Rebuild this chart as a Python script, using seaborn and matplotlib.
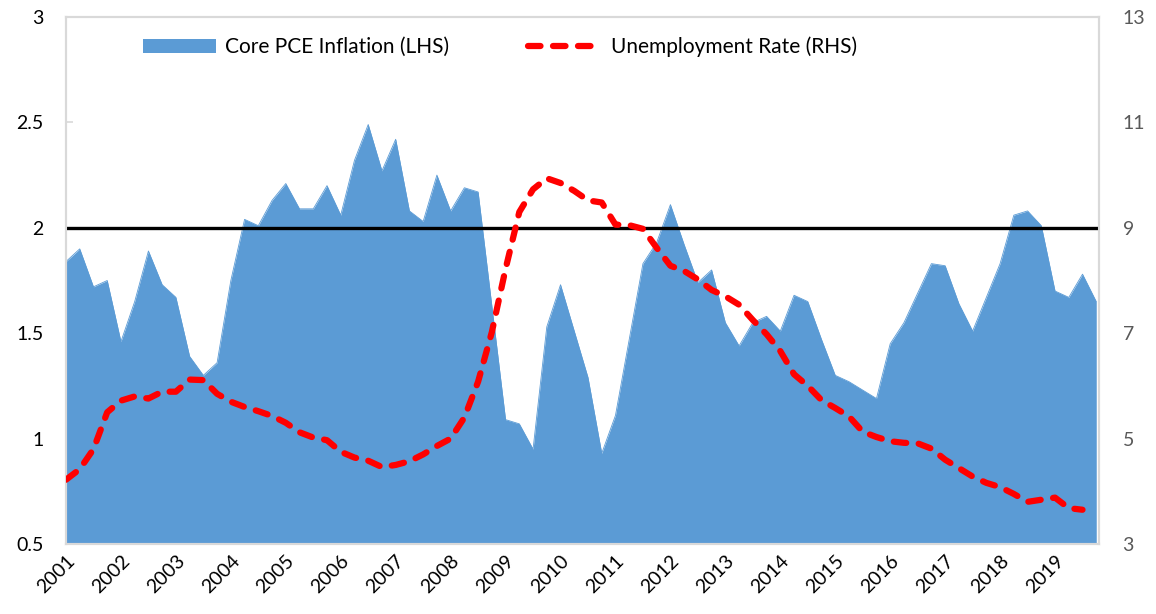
import numpy as np
import pandas as pd
import matplotlib
matplotlib.use("Agg")
import matplotlib.pyplot as plt
import seaborn as sns
from matplotlib.patches import Patch
from matplotlib.lines import Line2D

# ---- data (quarterly, 2001Q1 onwards) ----
start_year = 2001
core_pce = [1.84, 1.90, 1.72, 1.75, 1.46, 1.65, 1.89, 1.73, 1.67, 1.39,
            1.30, 1.36, 1.75, 2.04, 2.01, 2.13, 2.21, 2.09, 2.09, 2.20,
            2.06, 2.32, 2.49, 2.27, 2.42, 2.08, 2.03, 2.25, 2.08, 2.19,
            2.17, 1.63, 1.09, 1.07, 0.95, 1.53, 1.73, 1.51, 1.29, 0.93,
            1.11, 1.47, 1.83, 1.93, 2.11, 1.92, 1.74, 1.80, 1.55, 1.44,
            1.55, 1.58, 1.51, 1.68, 1.65, 1.47, 1.30, 1.27, 1.23, 1.19,
            1.45, 1.55, 1.69, 1.83, 1.82, 1.64, 1.51, 1.67, 1.83, 2.06,
            2.08, 2.01, 1.70, 1.67, 1.78, 1.65]
unemployment = [4.22, 4.42, 4.80, 5.50, 5.72, 5.80, 5.76, 5.89, 5.89, 6.12,
                6.11, 5.85, 5.70, 5.60, 5.52, 5.43, 5.30, 5.12, 5.02, 4.97,
                4.75, 4.64, 4.58, 4.46, 4.50, 4.57, 4.70, 4.86, 5.00, 5.40,
                6.08, 7.02, 8.22, 9.30, 9.73, 9.94, 9.85, 9.70, 9.52, 9.48,
                9.06, 9.05, 8.98, 8.62, 8.28, 8.18, 8.02, 7.82, 7.70, 7.54,
                7.25, 6.98, 6.66, 6.22, 6.00, 5.73, 5.58, 5.42, 5.13, 5.03,
                4.95, 4.92, 4.91, 4.81, 4.60, 4.44, 4.28, 4.16, 4.08, 3.95,
                3.80, 3.84, 3.88, 3.68, 3.65]
target = 2.0
year_ticks = list(range(2001, 2020))
year_labels = [str(y) for y in year_ticks]
left_ticks = [0.5, 1, 1.5, 2, 2.5, 3]
right_ticks = [3, 5, 7, 9, 11, 13]
label_pce = "Core PCE Inflation (LHS)"
label_unemp = "Unemployment Rate (RHS)"

pce_df = pd.DataFrame({"t": start_year + np.arange(len(core_pce)) / 4.0,
                       "v": core_pce})
un_df = pd.DataFrame({"t": start_year + np.arange(len(unemployment)) / 4.0,
                      "v": unemployment})

sns.set_theme(style="white")
plt.rcParams["font.family"] = ["Lato", "DejaVu Sans"]

BLUE = "#5B9BD5"
RED = "#FF0000"
GRID = "#D9D9D9"
DASH = [2.0, 2.0]
LW = 4.5

fig = plt.figure(figsize=(11.56, 6.14), dpi=100)
ax = fig.add_axes([66 / 1156, 1 - 544 / 614, (1099 - 66) / 1156, (544 - 17) / 614])

ax.fill_between(pce_df["t"], 0.5, pce_df["v"], color=BLUE, linewidth=0, zorder=1)
sns.lineplot(data=pce_df, x="t", y="v", ax=ax, color=BLUE, linewidth=0.6, zorder=1)
ax.axhline(target, color="black", linewidth=2.4, zorder=3, solid_capstyle="round")

ax.set_xlim(2001, 2019.8)
ax.set_ylim(0.5, 3)
ax.set_yticks(left_ticks)
ax.set_yticklabels([f"{v:g}" for v in left_ticks])
ax.set_xticks(year_ticks)
ax.set_xticklabels(year_labels, rotation=45, ha="right", va="top",
                   rotation_mode="anchor")
ax.set_xlabel("")
ax.set_ylabel("")

ax.tick_params(axis="y", which="both", direction="in", length=5, width=1.2,
               color=GRID, labelsize=14, pad=16, labelcolor="#000000", left=True)
ax.tick_params(axis="x", which="both", direction="in", length=5, width=1.2,
               color=GRID, labelsize=14, pad=6, labelcolor="#000000", bottom=True)
for s in ax.spines.values():
    s.set_color(GRID)
    s.set_linewidth(1.5)
ax.set_zorder(2)
ax.patch.set_visible(False)

ax2 = ax.twinx()
sns.lineplot(data=un_df, x="t", y="v", ax=ax2, color=RED, linewidth=LW,
             zorder=4)
l = ax2.lines[0]
l.set_dashes(DASH)
l.set_dash_capstyle("round")
l.set_solid_capstyle("round")
ax2.set_ylim(3, 13)
ax2.set_yticks(right_ticks)
ax2.set_yticklabels([f"{v:g}" for v in right_ticks])
ax2.set_ylabel("")
ax2.set_xlim(2001, 2019.8)
ax2.tick_params(axis="y", which="both", direction="in", length=0, right=True,
                labelright=True, labelsize=14, pad=17, labelcolor="#595959")
for s in ax2.spines.values():
    s.set_color(GRID)
    s.set_linewidth(1.5)
ax2.set_zorder(3)
ax2.patch.set_visible(False)

handles = [Patch(facecolor=BLUE, edgecolor="none", label=label_pce),
           Line2D([0], [0], color=RED, linewidth=LW, dashes=DASH,
                  dash_capstyle="round", label=label_unemp)]
leg = ax2.legend(handles=handles, loc="center", bbox_to_anchor=(0.42, 0.943),
                 ncol=2, frameon=False, fontsize=15, handlelength=3.5,
                 handletextpad=0.45, columnspacing=3.8)
for t in leg.get_texts():
    t.set_color("#000000")

fig.savefig("out.png", dpi=100)
